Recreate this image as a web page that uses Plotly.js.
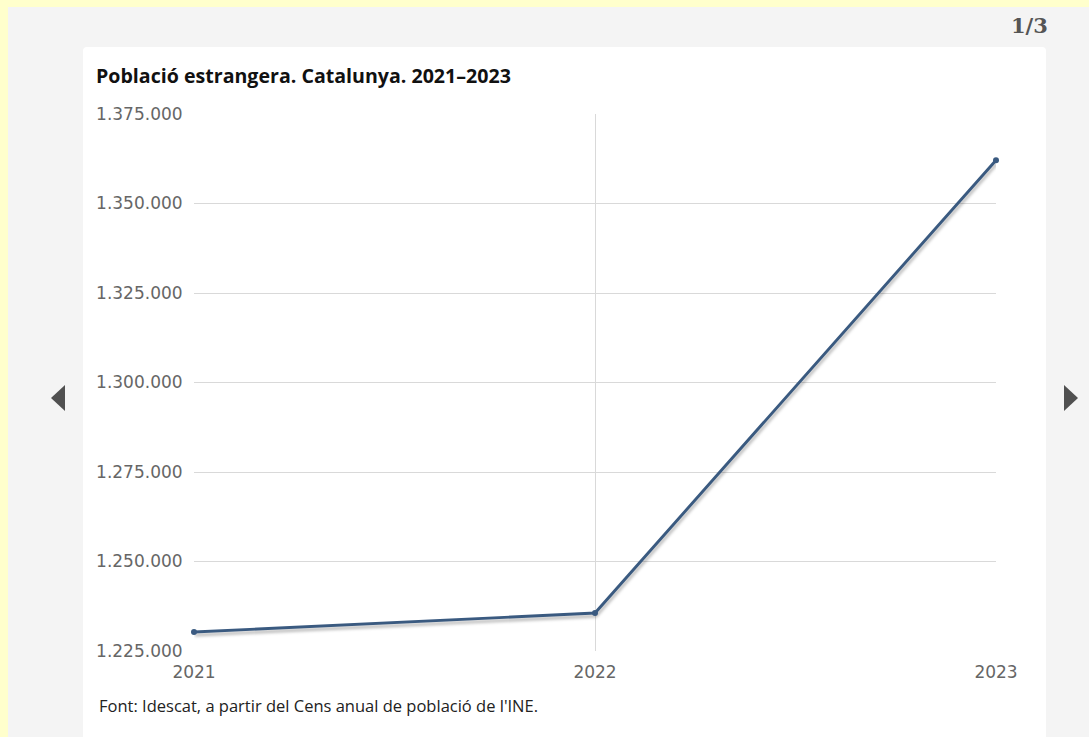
<!DOCTYPE html>
<html>
<head>
<meta charset="utf-8">
<script src="https://cdn.plot.ly/plotly-3.0.1.min.js"></script>
<style>
  html, body { margin: 0; padding: 0; width: 1089px; height: 737px; overflow: hidden; background: #ffffcc; }
  #panel { position: absolute; left: 8px; top: 7px; width: 1081px; height: 730px; background: #f4f4f4; }
  #card { position: absolute; left: 83px; top: 47px; width: 963px; height: 700px; background: #ffffff; border-radius: 4px; }
  #pager { position: absolute; left: 1011px; top: 13px; font-family: "DejaVu Serif", serif; font-weight: bold; font-size: 21px; color: #555; }
  .arrow { position: absolute; width: 0; height: 0; border-top: 13px solid transparent; border-bottom: 13px solid transparent; }
  #prev { left: 51px; top: 385px; border-right: 14px solid #505050; }
  #next { left: 1064px; top: 385px; border-left: 14px solid #505050; }
  #chart { position: absolute; left: 0; top: 0; width: 1089px; height: 737px; }
  #chart .scatterlayer .js-line { filter: drop-shadow(1px 3px 1.5px rgba(0,0,0,0.28)); }
</style>
</head>
<body>
<div id="panel"></div>
<div id="card"></div>
<div id="pager">1/3</div>
<div class="arrow" id="prev"></div>
<div class="arrow" id="next"></div>
<div id="chart"></div>
<script>
const years = ['2021', '2022', '2023'];
const foreignPopulation = [1230300, 1235600, 1362100];
const yTickValues = [1225000, 1250000, 1275000, 1300000, 1325000, 1350000, 1375000];
const yTickLabels = ['1.225.000', '1.250.000', '1.275.000', '1.300.000', '1.325.000', '1.350.000', '1.375.000'];
const titleText = 'Població estrangera. Catalunya. 2021–2023';
const sourceText = "Font: Idescat, a partir del Cens anual de població de l'INE.";

const trace = {
  x: years,
  y: foreignPopulation,
  type: 'scatter',
  mode: 'lines+markers',
  cliponaxis: false,
  line: { color: '#3a5a80', width: 2.9 },
  marker: { color: '#3a5a80', size: 6 },
  hoverinfo: 'x+y'
};

const layout = {
  width: 1089,
  height: 737,
  paper_bgcolor: 'rgba(0,0,0,0)',
  plot_bgcolor: '#ffffff',
  margin: { l: 194, r: 93, t: 114, b: 86 },
  showlegend: false,
  title: {
    text: '<b>' + titleText + '</b>',
    font: { family: 'Open Sans', size: 19.6, color: '#111111' },
    xref: 'container', x: 96 / 1089, xanchor: 'left',
    yref: 'container', y: 1 - 76 / 737, yanchor: 'middle'
  },
  xaxis: {
    type: 'category',
    range: [0, 2],
    showgrid: true,
    gridcolor: '#d9d9d9',
    gridwidth: 1,
    zeroline: false,
    showline: false,
    ticks: 'outside',
    ticklen: 6,
    tickcolor: 'rgba(0,0,0,0)',
    tickfont: { family: 'DejaVu Sans, Verdana, sans-serif', size: 17, color: '#666666' },
    fixedrange: true
  },
  yaxis: {
    range: [1225000, 1375000],
    tickvals: yTickValues,
    ticktext: yTickLabels,
    showgrid: true,
    gridcolor: '#d9d9d9',
    gridwidth: 1,
    zeroline: false,
    showline: false,
    ticks: 'outside',
    ticklen: 7,
    tickcolor: 'rgba(0,0,0,0)',
    tickfont: { family: 'DejaVu Sans, Verdana, sans-serif', size: 17, color: '#666666' },
    fixedrange: true
  },
  annotations: [{
    text: sourceText,
    xref: 'paper', yref: 'paper',
    x: (97 - 194) / 802, xanchor: 'left',
    y: (651 - 705) / 537, yanchor: 'middle',
    showarrow: false,
    font: { family: 'Open Sans', size: 16.5, color: '#222222' }
  }]
};

Plotly.newPlot('chart', [trace], layout, { displayModeBar: false });
</script>
</body>
</html>
